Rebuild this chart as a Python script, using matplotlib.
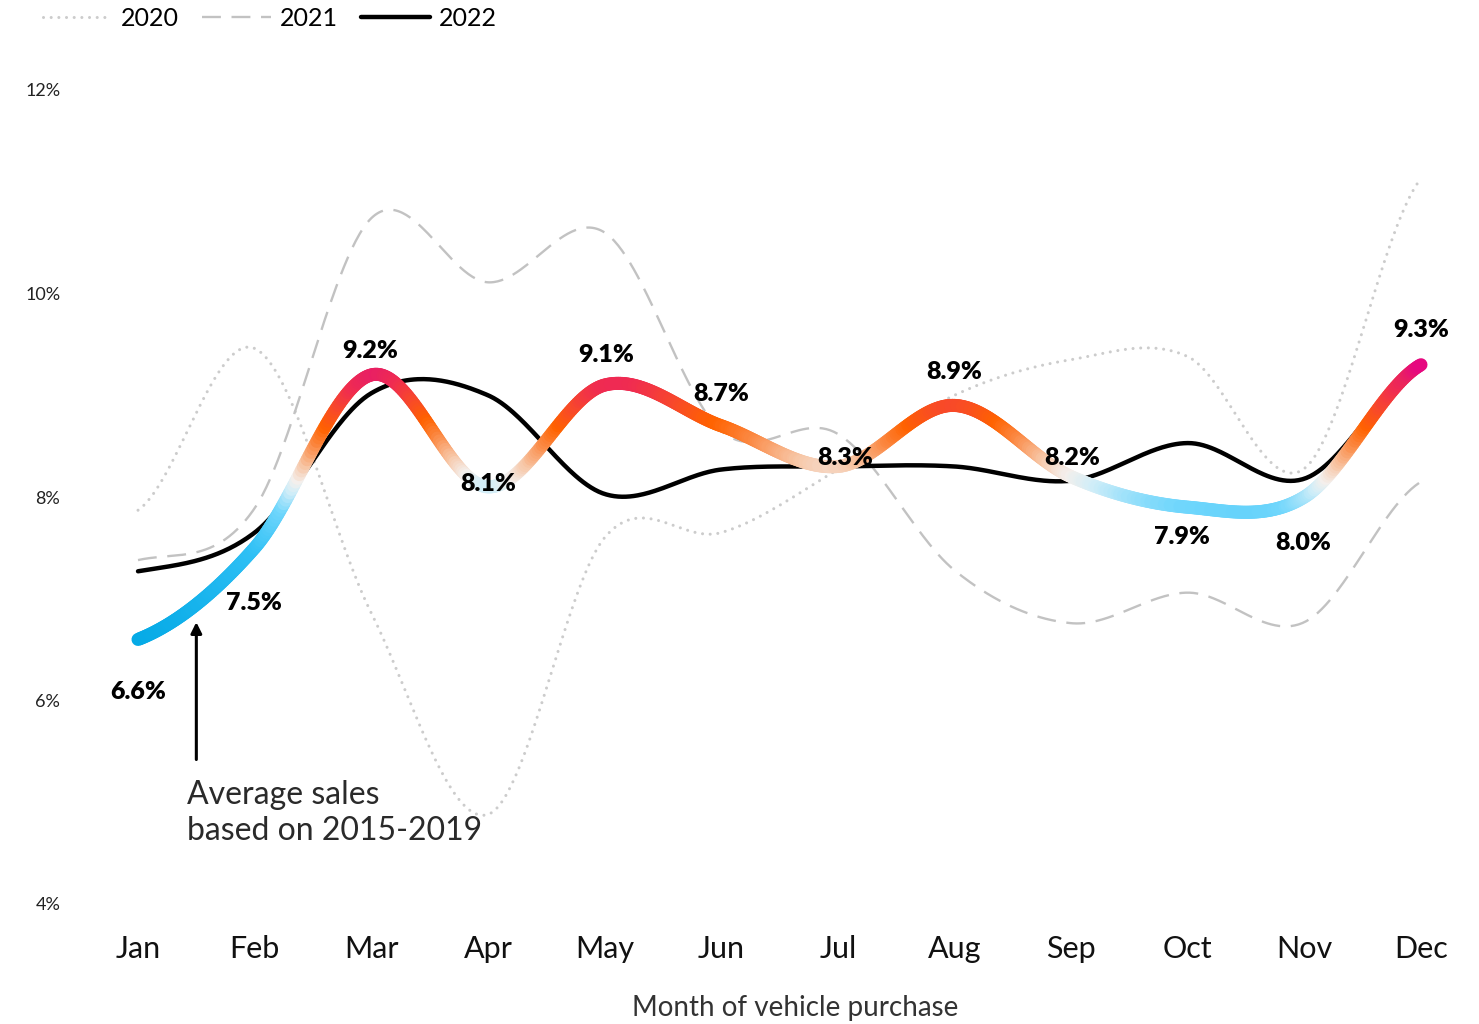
import numpy as np
import matplotlib
matplotlib.use("Agg")
import matplotlib.pyplot as plt
from matplotlib.collections import LineCollection
from matplotlib.colors import LinearSegmentedColormap, Normalize
from matplotlib.lines import Line2D

plt.rcParams['font.family'] = ['Lato', 'DejaVu Sans']

months = ['Jan', 'Feb', 'Mar', 'Apr', 'May', 'Jun', 'Jul', 'Aug', 'Sep', 'Oct', 'Nov', 'Dec']
avg_2015_2019 = [6.6, 7.5, 9.2, 8.1, 9.1, 8.7, 8.3, 8.9, 8.2, 7.9, 8.0, 9.3]
sales_2022 = [7.27, 7.65, 9.02, 9.0, 8.03, 8.27, 8.3, 8.3, 8.16, 8.53, 8.18, 9.3]
sales_2021 = [7.38, 7.89, 10.74, 10.11, 10.6, 8.65, 8.62, 7.28, 6.76, 7.06, 6.77, 8.15]
sales_2020 = [7.87, 9.46, 6.86, 4.88, 7.6, 7.65, 8.27, 9.0, 9.35, 9.38, 8.28, 11.13]
avg_labels = ['6.6%', '7.5%', '9.2%', '8.1%', '9.1%', '8.7%', '8.3%', '8.9%', '8.2%', '7.9%', '8.0%', '9.3%']
# label offsets in pixels (dx, dy)
label_offsets = [(0, -53), (-1, -55), (-1, 24), (0, 3), (2, 30), (0, 32),
                 (7, 8), (0, 33), (1, 19), (-6, -30), (-1, -46), (0, 35)]
y_ticks = [4, 6, 8, 10, 12]


def smooth(vals, n=60):
    # catmull-rom through the monthly points
    y = np.asarray(vals, float)
    p = np.concatenate([[y[0]], y, [y[-1]]])
    xs, ys = [], []
    t = np.linspace(0, 1, n, endpoint=False)
    for i in range(len(y) - 1):
        p0, p1 = p[i + 1], p[i + 2]
        m0 = (p[i + 2] - p[i]) / 2
        m1 = (p[i + 3] - p[i + 1]) / 2
        h00 = 2 * t**3 - 3 * t**2 + 1
        h10 = t**3 - 2 * t**2 + t
        h01 = -2 * t**3 + 3 * t**2
        h11 = t**3 - t**2
        xs.append(i + t)
        ys.append(h00 * p0 + h10 * m0 + h01 * p1 + h11 * m1)
    xs.append([len(y) - 1])
    ys.append([y[-1]])
    return np.concatenate(xs), np.concatenate(ys)


fig = plt.figure(figsize=(14.79, 10.24), dpi=100)
ax = fig.add_axes([79.7 / 1479, 120 / 1024, 1399.6 / 1479, 814 / 1024])
ax.set_xlim(-0.5, 11.5)
ax.set_ylim(4, 12)

x20, y20 = smooth(sales_2020)
ax.plot(x20, y20, color='#cccccc', lw=2.2, ls=(0, (0.01, 2.5)),
        dash_capstyle='round', zorder=1)
x21, y21 = smooth(sales_2021)
ax.plot(x21, y21, color='#c2c2c2', lw=1.7, ls=(0, (8, 4.5)), zorder=2)
x22, y22 = smooth(sales_2022)
ax.plot(x22, y22, color='black', lw=3.2, solid_capstyle='round', zorder=3)

# gradient line for the 2015-2019 average, coloured by value
lo, hi = 6.6, 9.3
stops = [(6.6, '#05aae6'), (7.5, '#30c0f5'), (7.9, '#6fd6fc'), (8.1, '#d2eef8'),
         (8.2, '#f4efec'), (8.35, '#f7c6a6'), (8.55, '#fb8a45'), (8.72, '#ff6200'),
         (8.9, '#f84a28'), (9.1, '#f02c50'), (9.2, '#e9225f'), (9.3, '#e6087f')]
cmap = LinearSegmentedColormap.from_list('avg', [((v - lo) / (hi - lo), c) for v, c in stops])
norm = Normalize(lo, hi, clip=True)
xa, ya = smooth(avg_2015_2019)
pts = np.column_stack([xa, ya]).reshape(-1, 1, 2)
segs = np.concatenate([pts[:-1], pts[1:]], axis=1)
lc = LineCollection(segs, colors=cmap(norm((ya[:-1] + ya[1:]) / 2)),
                    linewidths=9.4, capstyle='round', joinstyle='round', zorder=4)
ax.add_collection(lc)

for i, (lab, off) in enumerate(zip(avg_labels, label_offsets)):
    ax.annotate(lab, (i, avg_2015_2019[i]), xytext=off, textcoords='offset pixels',
                ha='center', va='center', fontsize=18, fontweight='heavy', zorder=6)

ax.annotate('', xy=(0.5, 6.77), xytext=(0.5, 5.42),
            arrowprops=dict(arrowstyle='-|>', color='black', lw=2.2,
                            mutation_scale=16, shrinkA=0, shrinkB=0))
ax.text(0.42, 5.22, 'Average sales\nbased on 2015-2019', ha='left', va='top',
        fontsize=23, color='#2a2a2a', linespacing=1.25)

ax.set_xticks(range(12))
ax.set_xticklabels(months, fontsize=22, color='#111111')
ax.set_yticks(y_ticks)
ax.set_yticklabels([f'{v}%' for v in y_ticks], fontsize=13, color='#222222')
ax.tick_params(axis='x', length=0, pad=22)
ax.tick_params(axis='y', length=0, pad=14)
for s in ax.spines.values():
    s.set_visible(False)

fig.text(795 / 1479, 1 - 1008 / 1024, 'Month of vehicle purchase', ha='center', va='center',
         fontsize=20, color='#333333')

handles = [
    Line2D([], [], color='#cccccc', lw=2.2, ls=(0, (0.01, 2.5)), dash_capstyle='round'),
    Line2D([], [], color='#c2c2c2', lw=1.7, ls=(0, (8, 4.5))),
    Line2D([], [], color='black', lw=3.2, solid_capstyle='round'),
]
fig.legend(handles, ['2020', '2021', '2022'], loc='upper left', bbox_to_anchor=(0.029, 0.993),
           ncol=3, frameon=False, fontsize=18, handlelength=2.75, handletextpad=0.35,
           columnspacing=0.95, borderpad=0, borderaxespad=0)

fig.savefig('out.png', dpi=100, facecolor='white')
